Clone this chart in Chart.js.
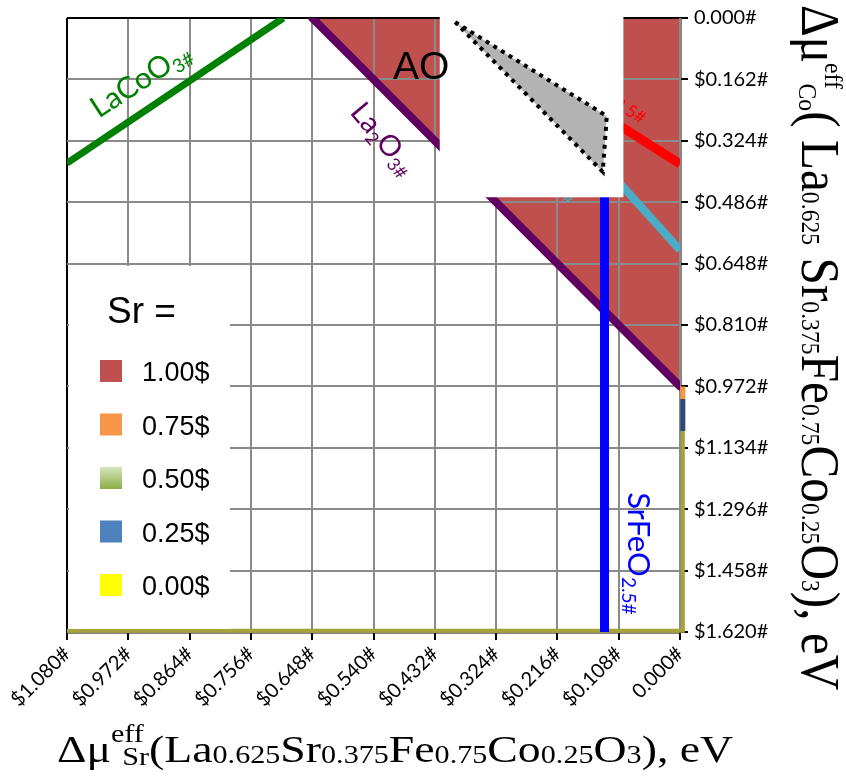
<!DOCTYPE html>
<html><head><meta charset="utf-8">
<script src="https://cdn.jsdelivr.net/npm/chart.js@4/dist/chart.umd.min.js"></script>
<style>
html,body{margin:0;padding:0;background:#fff;}
#wrap{position:relative;width:846px;height:779px;overflow:hidden;background:#fff;}
canvas{position:absolute;left:0;top:0;}
.title{position:absolute;white-space:nowrap;font-family:"Liberation Serif","Times New Roman",serif;line-height:1;color:#000;transform-origin:0 0;}
.title span{position:relative;}
#xt{font-size:38px;left:57px;top:730px;}
#xt .s{font-size:25px;}
#yt{font-size:54px;left:847px;top:5px;}
#yt .s{font-size:26px;}
</style></head><body>
<div id="wrap">
<canvas id="c" width="846" height="779"></canvas>
<div id="xt" class="title">Δμ<span class="s" style="top:-20px">eff</span><span class="s" style="top:3px;margin-left:-18px">Sr</span>(La<span class="s" style="top:1px">0.625</span>Sr<span class="s" style="top:1px">0.375</span>Fe<span class="s" style="top:1px">0.75</span>Co<span class="s" style="top:1px">0.25</span>O<span class="s" style="top:1px">3</span>), eV</div>
<div id="yt" class="title">Δμ<span class="s" style="top:-23px">eff</span><span class="s" style="top:3px;margin-left:-6px">Co</span>( La<span class="s">0.625</span> Sr<span class="s">0.375</span>Fe<span class="s">0.75</span>Co<span class="s">0.25</span>O<span class="s">3</span>), eV</div>
</div>
<script>
// ---- axis ticks ----
const xTickValues = [-1.08, -0.972, -0.864, -0.756, -0.648, -0.54, -0.432, -0.324, -0.216, -0.108, 0];
const xTickLabels = ["$1.080#", "$0.972#", "$0.864#", "$0.756#", "$0.648#", "$0.540#", "$0.432#", "$0.324#", "$0.216#", "$0.108#", "0.000#"];
const yTickValues = [0, -0.162, -0.324, -0.486, -0.648, -0.81, -0.972, -1.134, -1.296, -1.458, -1.62];
const yTickLabels = ["0.000#", "$0.162#", "$0.324#", "$0.486#", "$0.648#", "$0.810#", "$0.972#", "$1.134#", "$1.296#", "$1.458#", "$1.620#"];

// ---- phase boundary lines (x = Δμ_Sr, y = Δμ_Co) ----
const laCoO3Line = [{x: -1.08, y: -0.383}, {x: -0.699, y: 0}];
const la2O3Line = [{x: -0.648, y: 0}, {x: 0, y: -0.972}];
const srFeO25Line = [{x: -0.133, y: -0.40}, {x: -0.133, y: -1.62}];
const redLine = [{x: -0.30, y: -0.10}, {x: 0, y: -0.385}];
const cyanLine = [{x: -0.20, y: -0.28}, {x: 0, y: -0.612}];

// ---- stable region (Sr = 1.00), bounded by La2O3 line and the top ----
const stableRegion = [{x: -0.648, y: 0}, {x: 0, y: -0.972}];
// thin regions along the edges
const orangeEdge = [{x: 0.005, y: -0.972}, {x: 0.005, y: -1.005}];
const blueEdge = [{x: 0.005, y: -1.005}, {x: 0.005, y: -1.09}];
const yellowEdge = [{x: 0.005, y: -1.09}, {x: 0.005, y: -1.617}, {x: -1.08, y: -1.617}];

// ---- inset ----
const insetBox = [{x: -0.418, y: 0.008}, {x: -0.105, y: 0.008}, {x: -0.105, y: -0.465}, {x: -0.418, y: -0.465}, {x: -0.418, y: 0.008}];
const insetTriangle = [{x: -0.396, y: -0.011}, {x: -0.129, y: -0.259}, {x: -0.136, y: -0.406}, {x: -0.396, y: -0.011}];

// ---- legend ----
const legendTitle = "Sr =";
const legendLabels = ["1.00$", "0.75$", "0.50$", "0.25$", "0.00$"];
const legendColors = ["#C0504D", "#F79646", "green-gradient", "#4F81BD", "#FFFF00"];

// ---- line labels ----
const SANS = '"Lato", "Open Sans", sans-serif';
const lineLabels = [
  {parts: [["LaCoO", 0], ["3#", 1]], x: -1.024, y: -0.266, angle: -33, color: "#008000", size: 30},
  {parts: [["La", 0], ["2", 1], ["O", 0], ["3#", 1]], x: -0.583, y: -0.250, angle: 50, color: "#600060", size: 29},
  {parts: [["SrFeO", 0], ["2.5#", 1]], x: -0.0916, y: -1.251, angle: 90, color: "#0000FF", size: 31}
];
const hiddenLabels = [
  {parts: [["SrCoO", 0], ["2.5#", 1]], x: -0.236, y: -0.108, angle: 32, color: "#FF0000", size: 28},
  {parts: [["SrCoO", 0], ["3#", 1]], x: -0.298, y: -0.318, angle: 47, color: "#4BACC6", size: 24}
];

function drawRich(ctx, lab, px, py) {
  ctx.save();
  ctx.translate(px, py);
  ctx.rotate(lab.angle * Math.PI / 180);
  ctx.fillStyle = lab.color;
  ctx.textBaseline = 'alphabetic';
  ctx.textAlign = 'left';
  let cx = 0;
  for (const [t, sub] of lab.parts) {
    const sz = sub ? Math.round(lab.size * 0.62) : lab.size;
    ctx.font = sz + 'px ' + SANS;
    ctx.fillText(t, cx, sub ? lab.size * 0.18 : 0);
    cx += ctx.measureText(t).width;
  }
  ctx.restore();
}

const overlay = {
  id: 'overlay',
  afterDatasetDraw(chart, args) {
    const ds = chart.data.datasets[args.index];
    const xs = chart.scales.x, ys = chart.scales.y;
    if (ds.id === 'stable') {
      xs.drawGrid(chart.chartArea);
      ys.drawGrid(chart.chartArea);
    }
    if (ds.id === 'srfeo') {
      for (const l of hiddenLabels) drawRich(chart.ctx, l, xs.getPixelForValue(l.x), ys.getPixelForValue(l.y));
    }
  },
  afterDatasetsDraw(chart) {
    const ctx = chart.ctx, xs = chart.scales.x, ys = chart.scales.y;
    // AO label
    ctx.save();
    ctx.fillStyle = '#000';
    ctx.font = '39px "Liberation Sans", Arial, sans-serif';
    ctx.textBaseline = 'alphabetic';
    ctx.fillText('AO', xs.getPixelForValue(-0.5057), ys.getPixelForValue(-0.162));
    ctx.restore();
    for (const l of lineLabels) drawRich(ctx, l, xs.getPixelForValue(l.x), ys.getPixelForValue(l.y));
    // legend box
    ctx.save();
    ctx.fillStyle = '#fff';
    ctx.fillRect(69, 266, 161, 363);
    ctx.fillStyle = '#000';
    ctx.font = '37px "Liberation Sans", Arial, sans-serif';
    ctx.textBaseline = 'alphabetic';
    ctx.fillText(legendTitle, 107, 323);
    ctx.font = '27px "Liberation Sans", Arial, sans-serif';
    for (let i = 0; i < legendLabels.length; i++) {
      const cy = 371 + i * 53.5;
      let col = legendColors[i];
      if (col === 'green-gradient') {
        const g = ctx.createLinearGradient(0, cy - 11, 0, cy + 11);
        g.addColorStop(0, '#D7E4BD');
        g.addColorStop(1, '#8AAF48');
        col = g;
      }
      ctx.fillStyle = col;
      ctx.fillRect(100, cy - 11, 22, 22);
      ctx.fillStyle = '#000';
      ctx.fillText(legendLabels[i], 142, cy + 10);
    }
    ctx.restore();
  }
};

const gridColor = (edgeVal) => (c) => (c.tick && c.tick.value === edgeVal) ? '#000' : '#8a8a8a';

new Chart(document.getElementById('c'), {
  type: 'line',
  data: {
    datasets: [
      {id: 'inset', data: insetTriangle, order: 1, borderColor: '#000', borderWidth: 4, borderDash: [4, 5], backgroundColor: '#B3B3B3', fill: 'shape', clip: false},
      {id: 'box', data: insetBox, order: 2, borderWidth: 6, borderColor: '#fff', borderJoinStyle: 'miter', backgroundColor: '#fff', fill: 'shape', clip: false},
      {id: 'srfeo', data: srFeO25Line, order: 3, borderColor: '#0000FF', borderWidth: 9, borderCapStyle: 'round', fill: false},
      {id: 'cyan', data: cyanLine, order: 4, borderColor: '#4BACC6', borderWidth: 8, fill: false},
      {id: 'red', data: redLine, order: 5, borderColor: '#FF0000', borderWidth: 9, fill: false},
      {id: 'la2o3', data: la2O3Line, order: 6, borderColor: '#600060', borderWidth: 8, borderCapStyle: 'round', fill: false},
      {id: 'lacoo3', data: laCoO3Line, order: 7, borderColor: '#008000', borderWidth: 7, fill: false},
      {id: 'e1', data: orangeEdge, order: 8, borderColor: '#F79646', borderWidth: 5, fill: false, clip: false},
      {id: 'e2', data: blueEdge, order: 8, borderColor: '#2E4A7A', borderWidth: 5, fill: false, clip: false},
      {id: 'e3', data: yellowEdge, order: 8, borderColor: '#A8A23C', borderWidth: 4, fill: false, clip: false},
      {id: 'stable', data: stableRegion, order: 10, borderWidth: 0, borderColor: 'rgba(0,0,0,0)', backgroundColor: '#C0504D', fill: 'end'}
    ]
  },
  options: {
    responsive: false,
    animation: false,
    layout: {padding: {left: 67, top: 18, right: 0, bottom: 0}},
    elements: {point: {radius: 0, hoverRadius: 0}, line: {tension: 0}},
    plugins: {legend: {display: false}, tooltip: {enabled: false}},
    events: [],
    scales: {
      x: {
        type: 'linear', min: -1.08, max: 0,
        afterBuildTicks: s => { s.ticks = xTickValues.map(v => ({value: v})); },
        afterFit: s => { s.height = 147; },
        grid: {color: gridColor(xTickValues[0]), lineWidth: 2, tickLength: 8, tickColor: '#000', tickWidth: 2},
        border: {color: '#000', width: 2.5},
        ticks: {callback: (v, i) => xTickLabels[i], autoSkip: false, minRotation: 45, maxRotation: 45, padding: 2, color: '#000', font: {family: SANS, size: 20}}
      },
      y: {
        type: 'linear', position: 'right', min: -1.62, max: 0,
        afterBuildTicks: s => { s.ticks = yTickValues.map(v => ({value: v})); },
        afterFit: s => { s.width = 166; },
        grid: {color: gridColor(yTickValues[0]), lineWidth: 2, tickLength: 8, tickColor: '#000', tickWidth: 2},
        border: {color: '#000', width: 2.5},
        ticks: {callback: (v, i) => yTickLabels[i], autoSkip: false, padding: 6, color: '#000', font: {family: SANS, size: 20}}
      }
    }
  },
  plugins: [overlay]
});

// stretch the axis titles to the reference extents
const xt = document.getElementById('xt');
xt.style.transform = 'scaleX(' + (676 / xt.offsetWidth) + ')';
const yt = document.getElementById('yt');
yt.style.transform = 'rotate(90deg) scaleX(' + (685 / yt.offsetWidth) + ')';
</script>
</body></html>
